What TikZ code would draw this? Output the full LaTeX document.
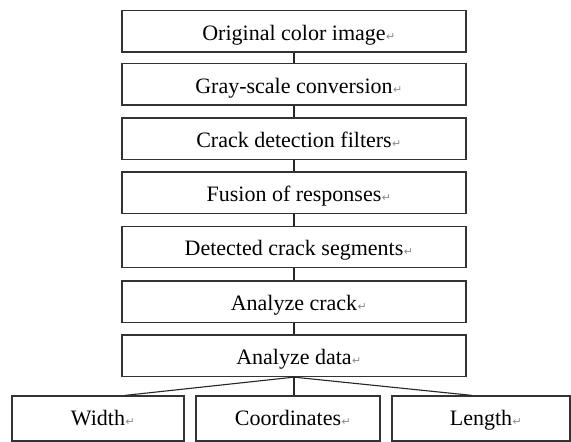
\documentclass[tikz,border=0pt]{standalone}
\usepackage{fontspec}
\setmainfont{Liberation Serif}
\newfontfamily\retfont{DejaVu Sans}
% paragraph mark drawn after each label, taking no width
\newcommand{\retmark}{\rlap{\hspace{0.5pt}{\retfont\fontsize{11}{11}\selectfont\color{black!45}↵}}}
\tikzset{
  boxfont/.style={font=\fontsize{22}{24}\selectfont},
  stepbox/.style={draw=black!80, line width=1.2pt, rectangle, minimum width=344pt,
    minimum height=41.5pt, inner sep=0pt, boxfont, text height=21.8pt, text depth=4pt},
  leafbox/.style={draw=black!80, line width=1.2pt, rectangle, minimum height=45pt,
    inner sep=0pt, boxfont, text height=17pt, text depth=4pt},
  link/.style={draw=black!85, line width=1.1pt}
}
\begin{document}
\begin{tikzpicture}[x=1pt,y=-1pt]
\useasboundingbox (0,0) rectangle (571,442);
\fill[white] (0,0) rectangle (571,442);
\node[stepbox] (s1) at (294,31.2) {Original color image\retmark};
\node[stepbox] (s2) at (294,84.2) {Gray-scale conversion\retmark};
\node[stepbox] (s3) at (294,138.7) {Crack detection filters\retmark};
\node[stepbox] (s4) at (294,192.8) {Fusion of responses\retmark};
\node[stepbox] (s5) at (294,247) {Detected crack segments\retmark};
\node[stepbox] (s6) at (294,301.8) {Analyze crack\retmark};
\node[stepbox] (s7) at (294,355.8) {Analyze data\retmark};
\node[leafbox, minimum width=172pt] (w) at (98,418.5) {Width\retmark};
\node[leafbox, minimum width=184pt] (c) at (288,418.5) {Coordinates\retmark};
\node[leafbox, minimum width=178pt] (l) at (481,418.5) {Length\retmark};
\foreach \a/\b in {s1/s2,s2/s3,s3/s4,s4/s5,s5/s6,s6/s7}
  \draw[link] (\a.south) -- (\b.north);
\draw[link] (s7.south) -- ([xshift=27pt]w.north);
\draw[link] (s7.south) -- (s7.south |- c.north);
\draw[link] (s7.south) -- ([xshift=-9pt]l.north);
\end{tikzpicture}
\end{document}
